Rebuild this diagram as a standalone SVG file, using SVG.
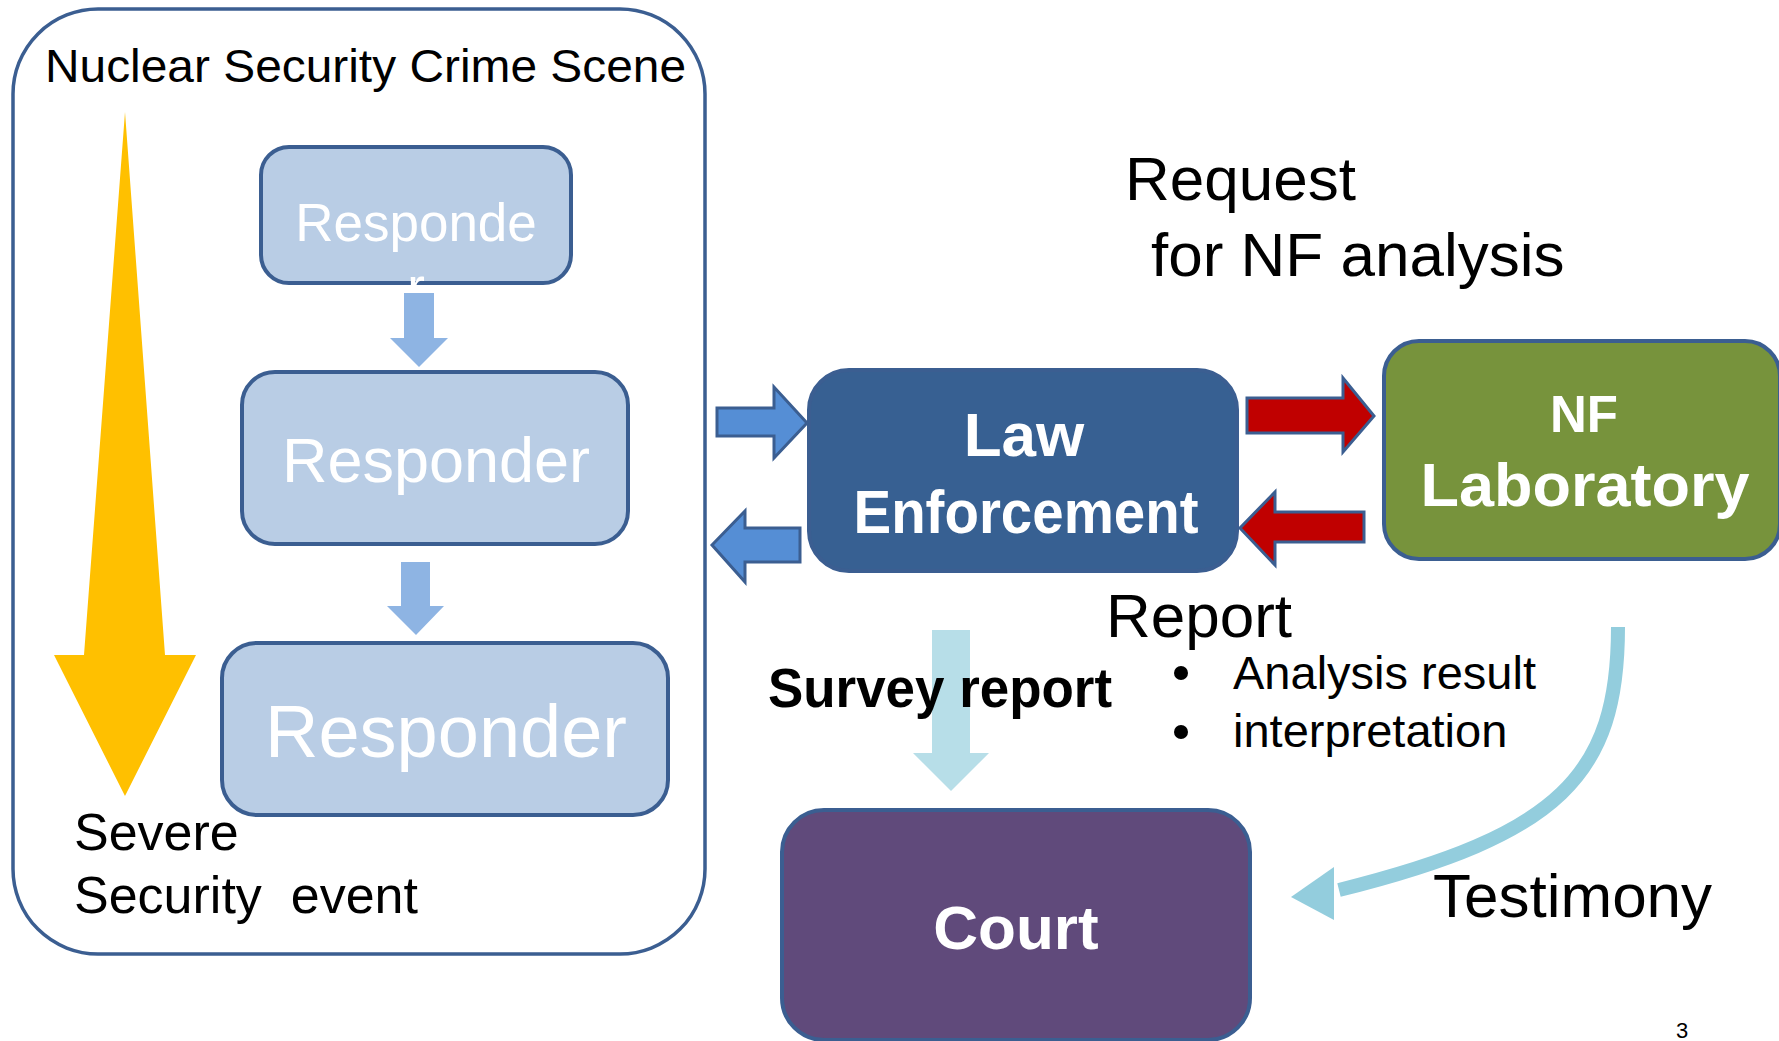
<svg xmlns="http://www.w3.org/2000/svg" width="1779" height="1041" viewBox="0 0 1779 1041">
<style>
text{font-family:"Liberation Sans",Arial,sans-serif}
.blk{fill:#000}
.wht{fill:#fff}
.b{font-weight:bold}
.resp{fill:#B9CDE5;stroke:#3B5E91;stroke-width:4}
.node{stroke:#3B5E91;stroke-width:4}
.bluearr{fill:#558ED5;stroke:#3B5E91;stroke-width:3;stroke-linejoin:miter}
.redarr{fill:#C00000;stroke:#3B5E91;stroke-width:3;stroke-linejoin:miter}
.ltarr{fill:#8EB4E3}
</style>
<rect width="1779" height="1041" fill="#fff"/>

<g id="crime-scene">
  <rect x="13" y="9" width="692" height="945" rx="85" ry="85" fill="#fff" stroke="#3B5E91" stroke-width="3.5"/>
  <text class="blk" x="45" y="82" font-size="46" textLength="641" lengthAdjust="spacingAndGlyphs">Nuclear Security Crime Scene</text>
  <polygon points="125,112 165,655 196,655 125,796 54,655 84,655" fill="#FFC000"/>
  <text class="blk" x="74" y="850" font-size="52">Severe</text>
  <text class="blk" x="74" y="913" font-size="52" xml:space="preserve">Security  event</text>
</g>

<g id="responder1">
  <rect class="resp" x="261" y="147" width="310" height="136" rx="28" ry="28"/>
  <text class="wht" x="416" y="241" font-size="53" text-anchor="middle">Responde</text>
  <text class="wht" x="416" y="305" font-size="53" text-anchor="middle">r</text>
</g>

<g id="responder2">
  <rect class="resp" x="242" y="372" width="386" height="172" rx="33" ry="33"/>
  <text class="wht" x="436" y="482" font-size="63" text-anchor="middle">Responder</text>
</g>

<g id="responder3">
  <rect class="resp" x="222" y="643" width="446" height="172" rx="35" ry="35"/>
  <text class="wht" x="446" y="757" font-size="74" text-anchor="middle">Responder</text>
</g>

<g id="law-enforcement">
  <rect class="node" x="809" y="370" width="428" height="201" rx="40" ry="40" fill="#376092"/>
  <text class="wht b" x="1024" y="456" font-size="62" text-anchor="middle">Law</text>
  <text class="wht b" x="1026" y="533" font-size="62" text-anchor="middle" textLength="345" lengthAdjust="spacingAndGlyphs">Enforcement</text>
</g>

<g id="nf-laboratory">
  <rect class="node" x="1384" y="341" width="396" height="218" rx="35" ry="35" fill="#77933C"/>
  <text class="wht b" x="1584" y="432" font-size="51" text-anchor="middle">NF</text>
  <text class="wht b" x="1585" y="506" font-size="62" text-anchor="middle" textLength="329" lengthAdjust="spacingAndGlyphs">Laboratory</text>
</g>

<g id="court">
  <rect class="node" x="782" y="810" width="468" height="230" rx="42" ry="42" fill="#604A7B"/>
  <text class="wht b" x="1016" y="949" font-size="62" text-anchor="middle">Court</text>
</g>

<g id="connectors">
  <polygon class="ltarr" points="404,293 434,293 434,338 448,338 419,367 390,338 404,338"/>
  <polygon class="ltarr" points="401,562 430,562 430,606 444,606 416,635 387,606 401,606"/>
  <polygon class="bluearr" points="717,408 774,408 774,387 807,423 774,458 774,436 717,436"/>
  <polygon class="bluearr" points="800,528 745,528 745,511 712,545 745,582 745,562 800,562"/>
  <polygon class="redarr" points="1247,398 1343,398 1343,378 1374,416 1343,452 1343,433 1247,433"/>
  <polygon class="redarr" points="1364,512 1275,512 1275,492 1240,528 1275,565 1275,542 1364,542"/>
  <polygon points="932,630 970,630 970,753 989,753 951,791 913,753 932,753" fill="#B7DEE8"/>
  <path d="M1618,627 C1618,775 1560,835 1339,890" fill="none" stroke="#93CDDD" stroke-width="14"/>
  <polygon points="1291,897 1334,867 1334,920" fill="#93CDDD"/>
</g>

<g id="labels">
  <text class="blk" x="1125" y="200" font-size="62">Request</text>
  <text class="blk" x="1151" y="276" font-size="62">for NF analysis</text>
  <text class="blk" x="1106" y="637" font-size="62">Report</text>
  <circle cx="1181" cy="673" r="7" fill="#000"/>
  <text class="blk" x="1233" y="689" font-size="47">Analysis result</text>
  <circle cx="1181" cy="732" r="7" fill="#000"/>
  <text class="blk" x="1233" y="747" font-size="47">interpretation</text>
  <text class="blk b" x="768" y="707" font-size="55" textLength="344" lengthAdjust="spacingAndGlyphs">Survey report</text>
  <text class="blk" x="1433" y="917" font-size="62">Testimony</text>
  <text class="blk" x="1676" y="1038" font-size="22">3</text>
</g>
</svg>
